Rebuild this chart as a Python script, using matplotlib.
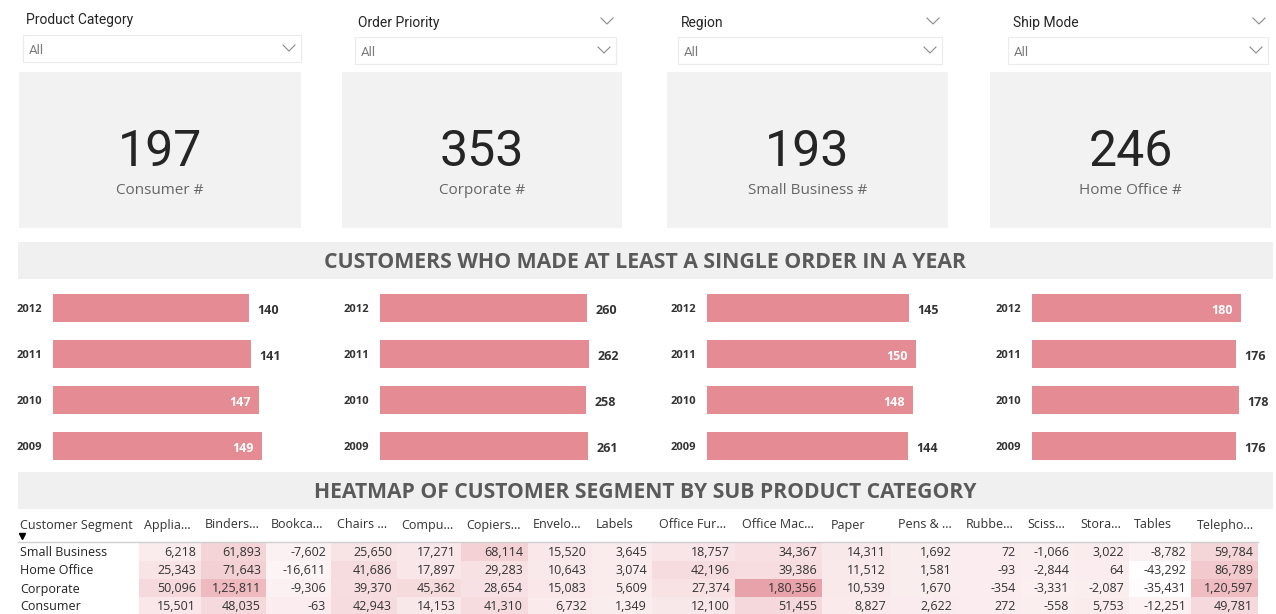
import matplotlib
matplotlib.use("Agg")
import numpy as np
from matplotlib import pyplot as plt
from matplotlib.patches import Rectangle
from matplotlib.colors import LinearSegmentedColormap, Normalize

# slicers and KPI cards
slicer_titles = ["Product Category", "Order Priority", "Region", "Ship Mode"]
kpi_values = [197, 353, 193, 246]
kpi_labels = ["Consumer #", "Corporate #", "Small Business #", "Home Office #"]

# customers per year, one panel per segment (same order as the cards)
years = ["2009", "2010", "2011", "2012"]
cust_consumer = [149, 147, 141, 140]
cust_corporate = [261, 258, 262, 260]
cust_small_business = [144, 148, 150, 145]
cust_home_office = [176, 178, 176, 180]
# where Power BI put the data label (True = inside the bar)
inside_consumer = [True, True, False, False]
inside_corporate = [False, False, False, False]
inside_small_business = [False, True, True, False]
inside_home_office = [False, False, False, True]

# heatmap
segments = ["Small Business", "Home Office", "Corporate", "Consumer"]
sub_categories = ["Applia...", "Binders...", "Bookca...", "Chairs ...", "Compu...",
                  "Copiers...", "Envelo...", "Labels", "Office Fur...", "Office Mac...",
                  "Paper", "Pens & ...", "Rubbe...", "Sciss...", "Stora...", "Tables",
                  "Telepho..."]
small_business = [6218, 61893, -7602, 25650, 17271, 68114, 15520, 3645, 18757, 34367,
                  14311, 1692, 72, -1066, 3022, -8782, 59784]
home_office = [25343, 71643, -16611, 41686, 17897, 29283, 10643, 3074, 42196, 39386,
               11512, 1581, -93, -2844, 64, -43292, 86789]
corporate = [50096, 125811, -9306, 39370, 45362, 28654, 15083, 5609, 27374, 180356,
             10539, 1670, -354, -3331, -2087, -35431, 120597]
consumer = [15501, 48035, -63, 42943, 14153, 41310, 6732, 1349, 12100, 51455,
            8827, 2622, 272, -558, 5753, -12251, 49781]

W, H = 1276, 614
BAR = "#e48b94"
CARD = "#f2f2f2"
DARK = "#333333"


def indian(v):
    s = str(abs(int(v)))
    if len(s) > 3:
        head, tail = s[:-3], s[-3:]
        parts = []
        while len(head) > 2:
            parts.insert(0, head[-2:])
            head = head[:-2]
        if head:
            parts.insert(0, head)
        s = ",".join(parts) + "," + tail
    return ("-" if v < 0 else "") + s


def px_axes(fig, x, y, w, h):
    return fig.add_axes([x / W, 1 - (y + h) / H, w / W, h / H])


def chevron(ax, cx, cy):
    ax.plot([cx - 6, cx, cx + 6], [cy - 3, cy + 3, cy - 3], color="#8a8a8a", lw=0.8)


fig = plt.figure(figsize=(W / 100, H / 100), dpi=100)
fig.patch.set_facecolor("white")
bg = px_axes(fig, 0, 0, W, H)
bg.set_xlim(0, W)
bg.set_ylim(H, 0)
bg.axis("off")

# --- slicers ---
slicer_x = [26, 358, 681, 1013]
slicer_ty = [18, 21, 21, 21]
box_x = [(23, 301), (355, 616), (678, 942), (1008, 1268)]
box_y = [35, 37, 37, 37]
for i, t in enumerate(slicer_titles):
    bg.text(slicer_x[i], slicer_ty[i] + 2, t, family="Roboto", fontsize=10, color="#252525",
            va="center", ha="left")
    x0, x1 = box_x[i]
    bg.add_patch(Rectangle((x0, box_y[i]), x1 - x0, 27, facecolor="white",
                           edgecolor="#ebebeb", lw=0.8))
    bg.text(x0 + 6, box_y[i] + 15, "All", family="Roboto", fontsize=9.5, color="#7a7a7a",
            va="center", ha="left")
    chevron(bg, x1 - 12, box_y[i] + 13)
    if i > 0:
        chevron(bg, x1 - 9, slicer_ty[i])

# --- KPI cards ---
card_x = [(19, 301), (342, 622), (667, 948), (990, 1271)]
for i, (x0, x1) in enumerate(card_x):
    bg.add_patch(Rectangle((x0, 72), x1 - x0, 156, facecolor=CARD, edgecolor="none"))
    cx = (x0 + x1) / 2
    bg.text(cx, 152, str(kpi_values[i]), family="Roboto", fontsize=36, color="#252525",
            ha="center", va="center")
    bg.text(cx, 191, kpi_labels[i], family="Open Sans", fontsize=11, color="#666666",
            ha="center", va="center")

# --- section bands ---
for y0, title, fs in [(242, "CUSTOMERS WHO MADE AT LEAST A SINGLE ORDER IN A YEAR", 15.3),
                      (472, "HEATMAP OF CUSTOMER SEGMENT BY SUB PRODUCT CATEGORY", 15.2)]:
    bg.add_patch(Rectangle((18, y0), 1255, 37, facecolor="#f0f0f0", edgecolor="none"))
    bg.text(645, y0 + 21, title, family="Open Sans", fontweight="bold", fontsize=fs,
            color="#5a5a5a", ha="center", va="center")

# --- bar panels ---
panels = [(cust_consumer, inside_consumer), (cust_corporate, inside_corporate),
          (cust_small_business, inside_small_business), (cust_home_office, inside_home_office)]
bar_x0 = [53, 380, 707, 1032]
for i, (vals, inside) in enumerate(panels):
    ax = px_axes(fig, bar_x0[i], 285, 260, 184)
    ax.set_xlim(0, max(vals) * 260 / 209)
    ax.set_ylim(-0.5, 3.5)
    ypos = np.arange(len(years))
    ax.barh(ypos, vals, height=0.59, color=BAR)
    for s in ax.spines.values():
        s.set_visible(False)
    ax.set_xticks([])
    ax.set_yticks(ypos)
    ax.set_yticklabels(years, family="Open Sans", fontweight="bold", fontsize=8, color=DARK)
    ax.tick_params(axis="y", length=0, pad=8)
    ax.patch.set_alpha(0)
    for y, v, ins in zip(ypos, vals, inside):
        if ins:
            ax.annotate(str(v), (v, y), xytext=(-6, -1.5), textcoords="offset points",
                        ha="right", va="center", color="white", fontweight="bold",
                        family="Open Sans", fontsize=9)
        else:
            ax.annotate(str(v), (v, y), xytext=(6, -2), textcoords="offset points",
                        ha="left", va="center", color=DARK, fontweight="bold",
                        family="Open Sans", fontsize=9)

# --- heatmap table ---
col_edges = [139, 201, 266, 331, 397, 461, 528, 592, 652, 735, 822, 891, 957, 1021,
             1074, 1129, 1191, 1258]
head_x = [144, 205, 271, 337, 401, 466, 533, 596, 659, 742, 831, 898, 966, 1027,
          1080, 1134, 1197]
row_edges = [543, 561, 579, 597, 615]
table = np.array([small_business, home_office, corporate, consumer])
cmap = LinearSegmentedColormap.from_list("pbi", ["#ffffff", "#e8a3aa"])
norm = Normalize(vmin=table.min(), vmax=table.max())
bg.pcolormesh(col_edges, row_edges, table, cmap=cmap, norm=norm, shading="flat", zorder=1)

bg.text(20, 525, "Customer Segment", family="Open Sans", fontsize=9, color=DARK,
        ha="left", va="center", zorder=3)
bg.plot([21.5], [535.5], marker="v", color="black", markersize=4, zorder=3)
for j, name in enumerate(sub_categories):
    bg.text(head_x[j], 525, name, family="Open Sans", fontsize=9, color=DARK,
            ha="left", va="center", zorder=3)
bg.plot([18, 1258], [541.5, 541.5], color="#cfcfcf", lw=1, zorder=3)
for r, seg in enumerate(segments):
    yc = (row_edges[r] + row_edges[r + 1]) / 2 + 1
    bg.text(20, yc, seg, family="Open Sans", fontsize=9, color="#222222",
            ha="left", va="center", zorder=3)
    for j in range(len(sub_categories)):
        bg.text(col_edges[j + 1] - 5, yc, indian(table[r, j]), family="Open Sans",
                fontsize=9, color="#333333", ha="right", va="center", zorder=3)

fig.savefig("out.png", dpi=100, facecolor="white")
